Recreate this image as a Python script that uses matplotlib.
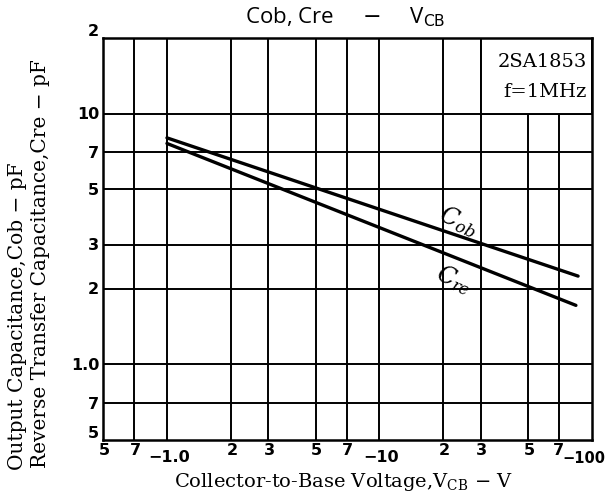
import matplotlib
matplotlib.use("Agg")
import matplotlib.pyplot as plt
from matplotlib.patches import Rectangle

# Data (|V_CB| in volts, capacitance in pF)
vcb_cob = [1.0, 86.0]
cob = [8.0, 2.25]
vcb_cre = [1.0, 84.0]
cre = [7.6, 1.72]

x_ticks = [0.5, 0.7, 1.0, 2, 3, 5, 7, 10, 20, 30, 50, 70, 100]
x_tick_labels = ["5", "7", "\u22121.0", "2", "3", "5", "7", "\u221210", "2", "3", "5", "7", "\u2212100"]
x_grid = [0.7, 1.0, 2, 3, 5, 7, 10, 20, 30, 50, 70]
y_ticks = [0.5, 0.7, 1.0, 2, 3, 5, 7, 10, 20]
y_tick_labels = ["5", "7", "1.0", "2", "3", "5", "7", "10", "2"]
y_grid = [0.7, 1.0, 2, 3, 5, 7, 10]

plt.rcParams['mathtext.fontset'] = 'dejavuserif'

fig = plt.figure(figsize=(6.05, 5.02), dpi=100)
ax = fig.add_axes([103/605, 1 - 441/502, (592-103)/605, (441-39)/502])
ax.set_xscale('log')
ax.set_yscale('log')
ax.set_xlim(0.5, 100)
ax.set_ylim(0.5, 20)

for xv in x_grid:
    ax.axvline(xv, color='black', lw=1.4, zorder=1)
for yv in y_grid:
    ax.axhline(yv, color='black', lw=1.4, zorder=1)

# annotation box (hides grid)
ax.add_patch(Rectangle((30, 10), 100 - 30, 20 - 10, facecolor='white',
                       edgecolor='black', lw=1.4, zorder=2))
ax.text(0.99, 0.965, "2SA1853", transform=ax.transAxes, ha='right', va='top',
        fontsize=14, family='DejaVu Serif', zorder=3)
ax.text(0.99, 0.89, "f=1MHz", transform=ax.transAxes, ha='right', va='top',
        fontsize=14, family='DejaVu Serif', zorder=3)

ax.plot(vcb_cob, cob, color='black', lw=2.4, zorder=4, solid_capstyle='round')
ax.plot(vcb_cre, cre, color='black', lw=2.4, zorder=4, solid_capstyle='round')

ax.text(23.5, 3.75, r'$C_{ob}$', fontsize=17, rotation=-24, ha='center', va='center', zorder=5)
ax.text(22.5, 2.2, r'$C_{re}$', fontsize=17, rotation=-24, ha='center', va='center', zorder=5)

for s in ax.spines.values():
    s.set_linewidth(1.8)

ax.set_xticks([])
ax.set_yticks([])
ax.minorticks_off()
ax.tick_params(which='both', length=0)

xt = ax.get_xaxis_transform()
for xv, lab in zip(x_ticks, x_tick_labels):
    if xv == 100:
        ax.text(1.027, -0.024, lab, transform=ax.transAxes, ha='right', va='top',
                fontsize=10.5, fontweight='bold', family='DejaVu Sans')
    elif lab.startswith("\u2212"):
        ax.text(xv * 1.02, -0.022, lab, transform=xt, ha='center', va='top',
                fontsize=11.5, fontweight='bold', family='DejaVu Sans')
    else:
        ax.text(xv * 0.995 if xv == 70 else xv * 1.01, -0.004, lab, transform=xt,
                ha='center', va='top', fontsize=11.5, fontweight='bold', family='DejaVu Sans')

yt = ax.get_yaxis_transform()
for yv, lab in zip(y_ticks, y_tick_labels):
    ax.text(-0.008, yv, lab, transform=yt, ha='right',
            va='bottom' if yv in (0.5, 20) else 'center',
            fontsize=11.5, fontweight='bold', family='DejaVu Sans')

fig.text(345/605, 1 - 17/502, r"Cob, Cre     $-$     V$_{\mathsf{CB}}$", ha='center', va='center',
         fontsize=16, family='Open Sans')
fig.text(344/605, 1 - 482/502, r"Collector-to-Base Voltage,V$_{\rm CB}$ $-$ V", ha='center',
         va='center', fontsize=14, family='DejaVu Serif')
fig.text(18/605, 1 - 470/502, "Output Capacitance,Cob \u2212 pF", rotation=90,
         ha='center', va='bottom', fontsize=14.5, family='DejaVu Serif')
fig.text(41/605, 1 - 468/502, "Reverse Transfer Capacitance,Cre \u2212 pF", rotation=90,
         ha='center', va='bottom', fontsize=14.5, family='DejaVu Serif')

fig.savefig("out.png", dpi=100)
